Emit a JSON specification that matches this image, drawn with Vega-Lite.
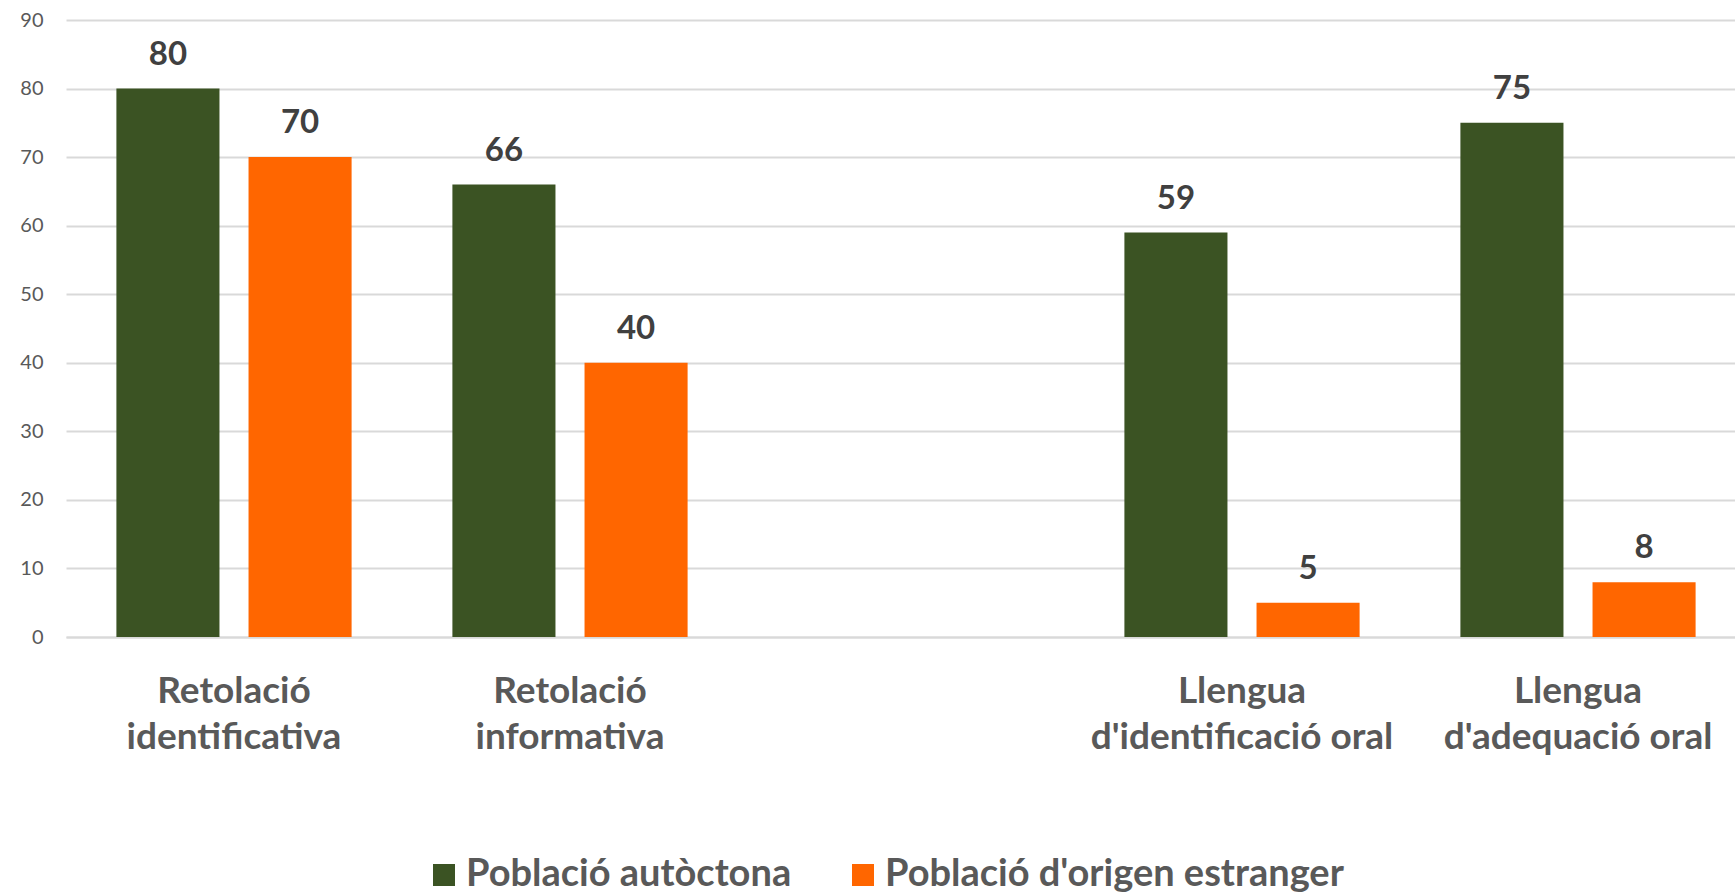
{
  "$schema": "https://vega.github.io/schema/vega-lite/v6.json",
  "width": 1669,
  "height": 617,
  "autosize": {"type": "none"},
  "padding": {"left": 66, "top": 20, "right": 0, "bottom": 256},
  "background": "white",
  "config": {"view": {"stroke": null}, "font": "Lato"},
  "data": {
    "values": [
      {"categoria": "Retolació identificativa", "poblacio": "Població autòctona", "valor": 80},
      {"categoria": "Retolació identificativa", "poblacio": "Població d'origen estranger", "valor": 70},
      {"categoria": "Retolació informativa", "poblacio": "Població autòctona", "valor": 66},
      {"categoria": "Retolació informativa", "poblacio": "Població d'origen estranger", "valor": 40},
      {"categoria": "Llengua d'identificació oral", "poblacio": "Població autòctona", "valor": 59},
      {"categoria": "Llengua d'identificació oral", "poblacio": "Població d'origen estranger", "valor": 5},
      {"categoria": "Llengua d'adequació oral", "poblacio": "Població autòctona", "valor": 75},
      {"categoria": "Llengua d'adequació oral", "poblacio": "Població d'origen estranger", "valor": 8}
    ]
  },
  "encoding": {
    "x": {
      "field": "categoria",
      "type": "nominal",
      "sort": null,
      "scale": {
        "domain": ["Retolació identificativa", "Retolació informativa", "", "Llengua d'identificació oral", "Llengua d'adequació oral"],
        "range": [0, 1680],
        "paddingInner": 0.3,
        "paddingOuter": 0.15
      },
      "axis": {
        "title": null,
        "labelAngle": 0,
        "labelFontSize": 37,
        "labelFontWeight": "bold",
        "labelColor": "#595959",
        "labelPadding": 36,
        "labelLineHeight": 46,
        "labelLimit": 500,
        "labelExpr": "datum.value == '' ? '' : [slice(datum.value, 0, indexof(datum.value, ' ')), slice(datum.value, indexof(datum.value, ' ') + 1)]",
        "ticks": false,
        "domain": true,
        "domainColor": "#d9d9d9",
        "domainWidth": 2,
        "grid": false
      }
    },
    "xOffset": {
      "field": "poblacio",
      "type": "nominal",
      "scale": {"domain": ["Població autòctona", "Població d'origen estranger"], "paddingInner": 0.22, "paddingOuter": 0}
    },
    "y": {
      "field": "valor",
      "type": "quantitative",
      "scale": {"domain": [0, 90], "nice": false},
      "axis": {
        "title": null,
        "values": [0, 10, 20, 30, 40, 50, 60, 70, 80, 90],
        "labelFontSize": 20,
        "labelColor": "#595959",
        "labelPadding": 23,
        "ticks": false,
        "domain": false,
        "grid": true,
        "gridColor": "#d9d9d9",
        "gridWidth": 2
      }
    }
  },
  "layer": [
    {
      "mark": {"type": "bar"},
      "encoding": {
        "color": {
          "field": "poblacio",
          "type": "nominal",
          "scale": {"domain": ["Població autòctona", "Població d'origen estranger"], "range": ["#3B5323", "#FF6600"]},
          "legend": {
            "title": null,
            "orient": "none",
            "direction": "horizontal",
            "legendX": 359,
            "legendY": 836,
            "symbolType": "square",
            "symbolSize": 484,
            "symbolStrokeWidth": 0,
            "symbolOpacity": 1,
            "labelFontSize": 38,
            "labelFontWeight": "bold",
            "labelColor": "#595959",
            "labelOffset": 3,
            "labelLimit": 600,
            "columnPadding": 52,
            "padding": 0
          }
        }
      }
    },
    {
      "mark": {"type": "text", "baseline": "alphabetic", "dy": -24, "fontSize": 33, "fontWeight": "bold", "color": "#404040"},
      "encoding": {"text": {"field": "valor", "type": "quantitative"}}
    }
  ]
}
